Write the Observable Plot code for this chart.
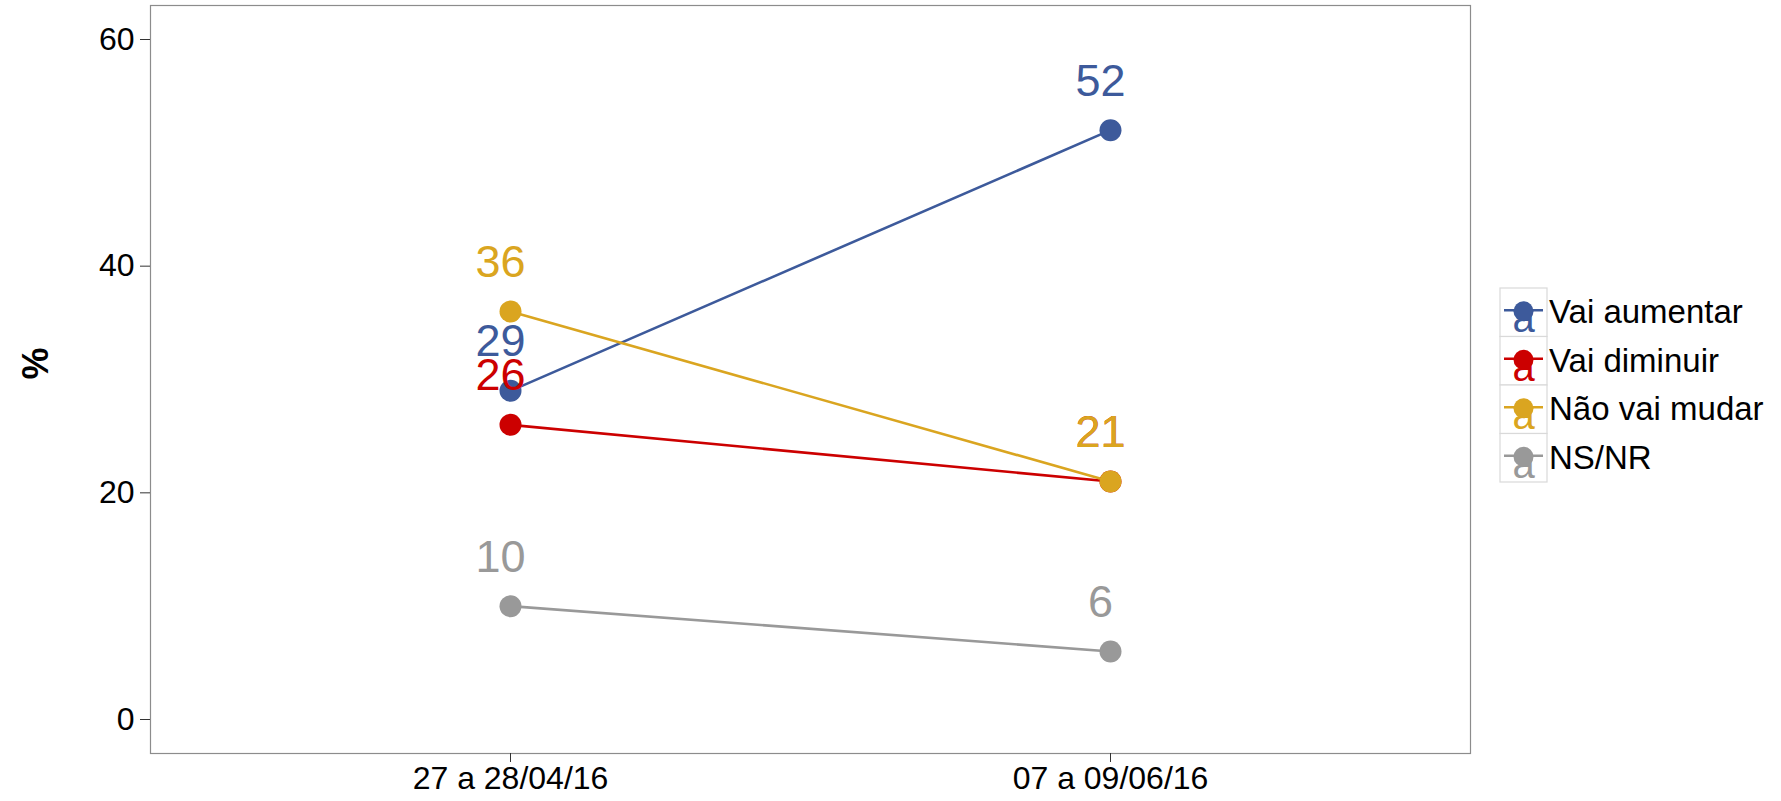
<!DOCTYPE html>
<html>
<head>
<meta charset="utf-8">
<script src="https://cdn.jsdelivr.net/npm/d3@7"></script>
<script src="https://cdn.jsdelivr.net/npm/@observablehq/plot@0.6"></script>
<style>
  html, body { margin: 0; padding: 0; background: #fff; }
  #wrap { position: relative; width: 1781px; height: 801px; }
  #legend { position: absolute; left: 0; top: 0; }
  svg { font-family: "Liberation Sans", Arial, sans-serif; }
</style>
</head>
<body>
<div id="wrap"></div>
<script>
const periods = ["27 a 28/04/16", "07 a 09/06/16"];
const series = ["Vai aumentar", "Vai diminuir", "Não vai mudar", "NS/NR"];
const colors = ["#3D5A9B", "#CC0000", "#DAA520", "#999999"];
const vaiAumentar = [29, 52];
const vaiDiminuir = [26, 21];
const naoVaiMudar = [36, 21];
const nsnr = [10, 6];
const yTicks = [0, 20, 40, 60];

const valuesBySeries = [vaiAumentar, vaiDiminuir, naoVaiMudar, nsnr];
const data = [];
series.forEach((s, i) => {
  periods.forEach((p, j) => data.push({series: s, period: p, value: valuesBySeries[i][j]}));
});

const font = "Liberation Sans, Arial, sans-serif";

const chart = Plot.plot({
  width: 1781,
  height: 801,
  marginLeft: 150,
  marginRight: 311,
  marginTop: 5,
  marginBottom: 48,
  style: {fontFamily: font, background: "white", color: "black"},
  x: {type: "point", domain: periods, padding: 0.6},
  y: {domain: [-3, 63]},
  color: {domain: series, range: colors},
  marks: [
    Plot.frame({stroke: "#8c8c8c", strokeWidth: 1.2}),
    Plot.axisX({ticks: periods, tickSize: 9, tickPadding: 4, fontSize: 32, label: null, stroke: "#333"}),
    Plot.axisY({ticks: yTicks, tickSize: 10, tickPadding: 6, fontSize: 32, label: null, stroke: "#333"}),
    Plot.text(["%"], {frameAnchor: "left", dx: -114, rotate: -90, text: d => d, fontWeight: "bold", fontSize: 36, fill: "black"}),
    Plot.line(data, {x: "period", y: "value", z: "series", stroke: "series", strokeWidth: 2.6}),
    Plot.dot(data, {x: "period", y: "value", fill: "series", r: 11}),
    Plot.text(data, {x: "period", y: "value", text: d => String(d.value), fill: "series", fontSize: 45, dy: -49, dx: -10, lineAnchor: "middle"})
  ]
});
document.getElementById("wrap").appendChild(chart);

// Legend (right side)
const leg = d3.select("#wrap").append("svg")
  .attr("id", "legend")
  .attr("width", 1781).attr("height", 801)
  .style("pointer-events", "none");
const keyX = 1500, keyY = 288, keyW = 47, keyH = 48.5;
series.forEach((s, i) => {
  const g = leg.append("g").attr("transform", `translate(${keyX},${keyY + i * keyH})`);
  g.append("rect").attr("width", keyW).attr("height", keyH)
    .attr("fill", "white").attr("stroke", "#d9d9d9").attr("stroke-width", 1.2);
  const clipId = "clip" + i;
  g.append("clipPath").attr("id", clipId).append("rect").attr("width", keyW).attr("height", keyH);
  const inner = g.append("g").attr("clip-path", `url(#${clipId})`);
  inner.append("text").attr("x", keyW / 2).attr("y", 44).attr("text-anchor", "middle")
    .attr("font-size", 40).attr("fill", colors[i]).attr("font-family", font).text("a");
  inner.append("line").attr("x1", 4).attr("x2", keyW - 4).attr("y1", keyH / 2 - 2).attr("y2", keyH / 2 - 2)
    .attr("stroke", colors[i]).attr("stroke-width", 2.6);
  inner.append("circle").attr("cx", keyW / 2).attr("cy", keyH / 2 - 1).attr("r", 10).attr("fill", colors[i]);
  leg.append("text").attr("x", 1549).attr("y", keyY + i * keyH + keyH / 2 + 11)
    .attr("font-size", 33).attr("font-family", font).attr("fill", "black").text(s);
});
</script>
</body>
</html>
